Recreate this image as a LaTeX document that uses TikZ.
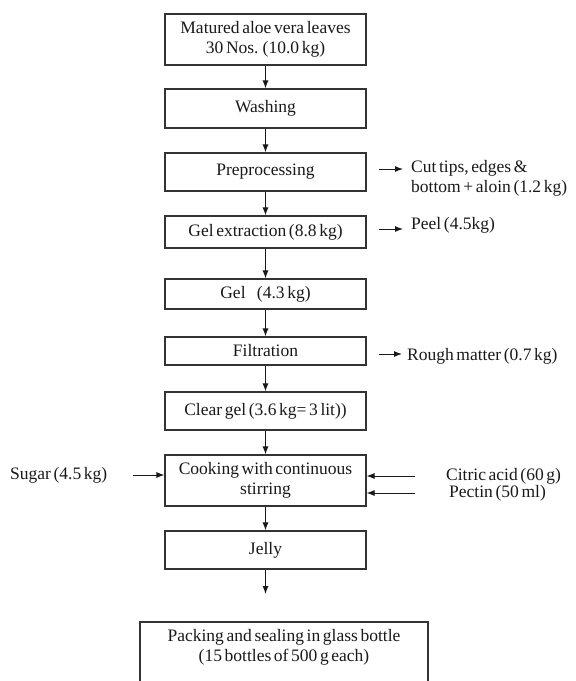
\documentclass[tikz,border=0pt]{standalone}
\usepackage{fontspec}
\setmainfont{Liberation Serif}[WordSpace=0.6]
\newfontfamily\refserif{Liberation Serif}[WordSpace=0.6]
\usetikzlibrary{arrows.meta}
\begin{document}
\begin{tikzpicture}[x=1pt,y=-1pt,
  txt/.style={font=\refserif\fontsize{17.5}{20}\selectfont, text=black!90},
  box/.style={txt, draw=black!80, line width=1.1pt, minimum width=201pt, inner sep=0pt, align=center},
  lbl/.style={txt, inner sep=0pt, anchor=west, align=left},
  arr/.style={-{Latex[length=8pt,width=6pt]}, line width=1pt, draw=black!90}]
\useasboundingbox (0,0) rectangle (576,681);
\clip (0,0) rectangle (576,681);
\node[box, minimum height=51pt] (b1) at (265.5,39.5) {Matured aloe vera leaves\\30 Nos. (10.0 kg)};
\node[box, minimum height=39pt] (b2) at (265.5,108.5) {Washing};
\node[box, minimum height=38pt] (b3) at (265.5,172) {Preprocessing};
\node[box, minimum height=32pt] (b4) at (265.5,232) {Gel extraction (8.8 kg)};
\node[box, minimum height=30pt] (b5) at (265.5,294) {Gel\enspace\ (4.3 kg)};
\node[box, minimum height=28pt] (b6) at (265.5,351) {Filtration};
\node[box, minimum height=38pt] (b7) at (265.5,411) {Clear gel (3.6 kg= 3 lit))};
\node[box, minimum height=51pt] (b8) at (265.5,480.5) {Cooking with continuous\\stirring};
\node[box, minimum height=38pt] (b9) at (265.5,550) {Jelly};
\node[txt, align=center, inner sep=0pt] (b10) at (284,647) {Packing and sealing in glass bottle\\(15 bottles of 500 g each)};
\draw[draw=black!80, line width=1.1pt] (140,700) |- (428,622) -- (428,700);
\coordinate (jend) at (265.5,594);

\draw[arr] (b1) -- (b2);
\draw[arr] (b2) -- (b3);
\draw[arr] (b3) -- (b4);
\draw[arr] (b4) -- (b5);
\draw[arr] (b5) -- (b6);
\draw[arr] (b6) -- (b7);
\draw[arr] (b7) -- (b8);
\draw[arr] (b8) -- (b9);
\draw[arr] (b9) -- (jend);

\node[lbl] (cut) at (411,178) {Cut tips, edges \&\\ bottom + aloin (1.2 kg)};
\node[lbl] (peel) at (411,225) {Peel (4.5kg)};
\node[lbl] (rough) at (407,356) {Rough matter (0.7 kg)};
\node[lbl] (sugar) at (10,475) {Sugar (4.5 kg)};
\node[lbl] (citric) at (446,476) {Citric acid (60 g)};
\node[lbl] (pectin) at (449,493) {Pectin (50 ml)};

\draw[arr] ([xshift=12pt,yshift=3pt]b3.east) -- ([yshift=3pt]b3.east -| 403,0);
\draw[arr] ([xshift=12pt,yshift=3pt]b4.east) -- ([yshift=3pt]b4.east -| 403,0);
\draw[arr] ([xshift=12pt,yshift=-3pt]b6.east) -- ([yshift=-3pt]b6.east -| 402,0);
\draw[arr] ([xshift=25pt]sugar.east) -- (sugar.east -| b8.west);
\draw[arr] ([xshift=-31pt]citric.west) -- (citric.west -| b8.east);
\draw[arr] ([xshift=-34pt]pectin.west) -- (pectin.west -| b8.east);
\end{tikzpicture}
\end{document}
